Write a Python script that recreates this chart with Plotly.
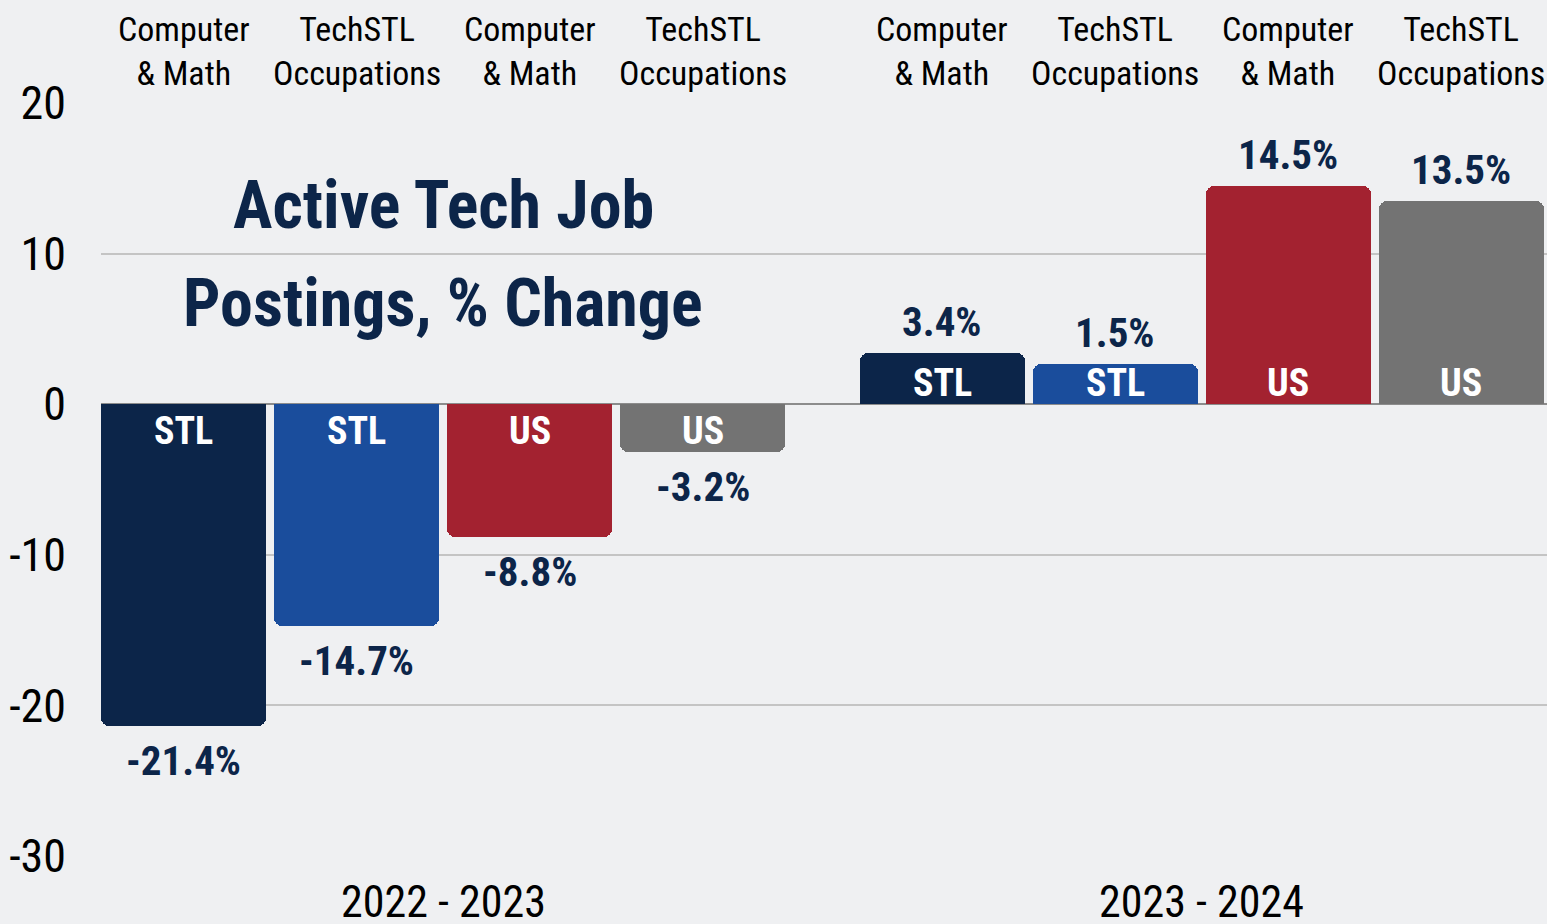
import plotly.graph_objects as go

# ---- data ----
categories = ["Computer<br>& Math", "TechSTL<br>Occupations",
              "Computer<br>& Math", "TechSTL<br>Occupations",
              "Computer<br>& Math", "TechSTL<br>Occupations",
              "Computer<br>& Math", "TechSTL<br>Occupations"]
periods = ["2022 - 2023", "2023 - 2024"]
regions = ["STL", "STL", "US", "US", "STL", "STL", "US", "US"]
bar_values = [-21.4, -14.7, -8.8, -3.2, 3.4, 2.7, 14.5, 13.5]   # drawn heights
value_labels = ["-21.4%", "-14.7%", "-8.8%", "-3.2%", "3.4%", "1.5%", "14.5%", "13.5%"]
y_ticks = [-30, -20, -10, 0, 10, 20]
y_tick_labels = ["-30", "-20", "-10", "0", "10", "20"]
title_lines = ["Active Tech Job", "Postings, % Change"]

# ---- styles ----
NAVY = "#0c2549"
BLUE = "#1a4d9c"
RED = "#a32230"
GRAY = "#737373"
BG = "#eff0f2"
bar_colors = [NAVY, BLUE, RED, GRAY, NAVY, BLUE, RED, GRAY]
FONT = "Roboto Condensed, Open Sans Condensed, sans-serif"

group_gap = 0.385
xpos = [i + (group_gap if i >= 4 else 0) for i in range(len(bar_values))]
group_centers = [sum(xpos[0:4]) / 4, sum(xpos[4:8]) / 4]

fig = go.Figure()
fig.add_trace(go.Bar(
    x=xpos, y=bar_values, width=0.954,
    marker=dict(color=bar_colors, line=dict(width=0), cornerradius=8),
    hoverinfo="skip", showlegend=False,
))

annotations = []
for x, v, lab, reg, cat in zip(xpos, bar_values, value_labels, regions, categories):
    annotations.append(dict(
        x=x, y=v, xref="x", yref="y", text=f"<b>{lab}</b>", showarrow=False,
        yanchor="middle", yshift=(31 if v > 0 else -35),
        font=dict(family=FONT, size=41, color=NAVY)))
    annotations.append(dict(
        x=x, y=0, xref="x", yref="y", text=f"<b>{reg}</b>", showarrow=False,
        yanchor="middle", yshift=(21 if v > 0 else -27),
        font=dict(family=FONT, size=38, color="white")))
    annotations.append(dict(
        x=x, y=1, xref="x", yref="paper", text=cat, showarrow=False,
        yanchor="bottom", yshift=8,
        font=dict(family=FONT, size=34, color="black")))

for gc, p in zip(group_centers, periods):
    annotations.append(dict(
        x=gc, y=0, xref="x", yref="paper", text=p, showarrow=False,
        yanchor="top", yshift=-18,
        font=dict(family=FONT, size=44, color="black")))

for ly, t in zip([0.8645, 0.734], title_lines):
    annotations.append(dict(
        x=group_centers[0], y=ly, xref="x", yref="paper", text=f"<b>{t}</b>",
        showarrow=False, yanchor="middle",
        font=dict(family=FONT, size=66, color=NAVY)))

fig.update_layout(
    width=1547, height=924,
    margin=dict(l=101, r=0, t=103, b=68),
    paper_bgcolor=BG, plot_bgcolor=BG,
    annotations=annotations,
    xaxis=dict(range=[-0.477, 7.88], showticklabels=False, showgrid=False,
               zeroline=False, showline=False, ticks=""),
    yaxis=dict(range=[-30, 20], tickvals=y_ticks, ticktext=y_tick_labels,
               showgrid=True, gridcolor="#c4c4c4", gridwidth=1.5,
               zeroline=True, zerolinecolor="#8c8c8c", zerolinewidth=2,
               showline=False, ticks="", ticklabelstandoff=34,
               tickfont=dict(family=FONT, size=46, color="black")),
    bargap=0,
)

fig.write_html("out.html", config={"displayModeBar": False},
               post_script="document.body.style.margin='0';")
